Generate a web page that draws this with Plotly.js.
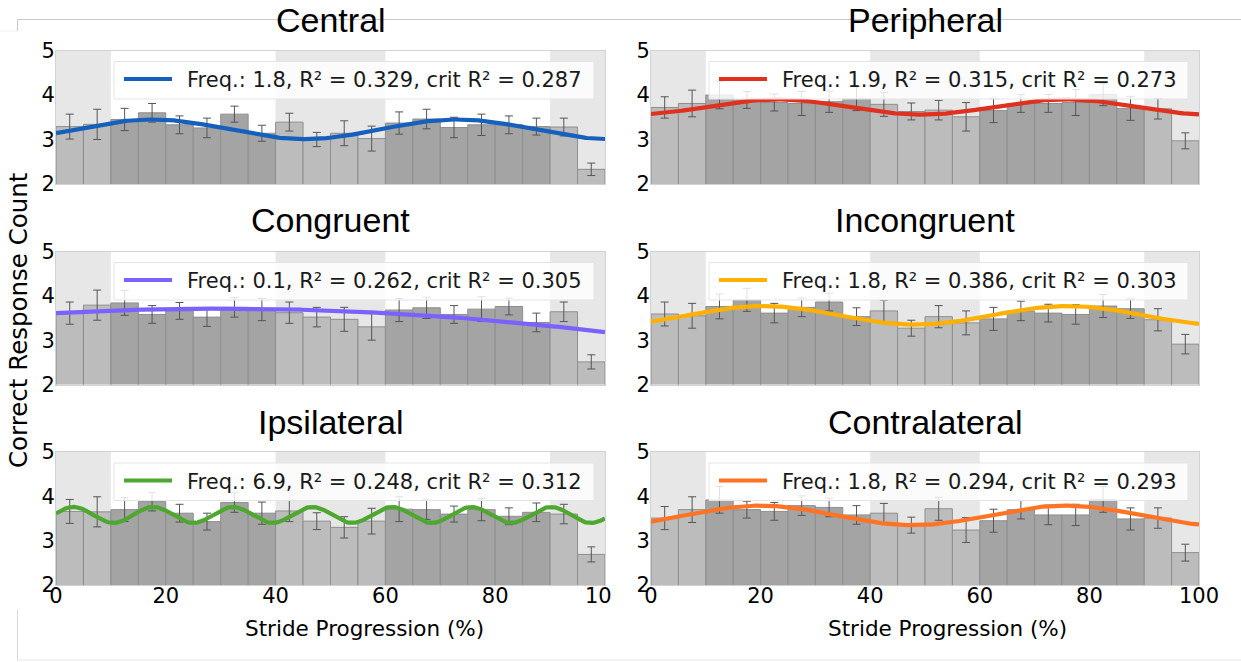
<!DOCTYPE html>
<html>
<head>
<meta charset="utf-8">
<script src="https://cdn.plot.ly/plotly-3.0.1.min.js"></script>
<style>
  html, body { margin: 0; padding: 0; background: #ffffff; }
  #chart { width: 1241px; height: 662px; }
</style>
</head>
<body>
<div id="chart"></div>
<script>
// Stride bins (5 % wide), centre of each bin in % of the stride
const binCenters = [2.5, 7.5, 12.5, 17.5, 22.5, 27.5, 32.5, 37.5, 42.5, 47.5,
                    52.5, 57.5, 62.5, 67.5, 72.5, 77.5, 82.5, 87.5, 92.5, 97.5];
const binWidth = 5;
// Gait phases drawn with a grey background
const shadedPhases = [[0, 10], [40, 60], [90, 100]];

const conditions = ['Central', 'Peripheral', 'Congruent', 'Incongruent', 'Ipsilateral', 'Contralateral'];

// Mean correct responses per bin and standard error
const centralMean = [3.29, 3.34, 3.45, 3.60, 3.33, 3.26, 3.57, 3.14, 3.39, 3.00,
                     3.14, 3.02, 3.37, 3.46, 3.27, 3.33, 3.33, 3.29, 3.28, 2.33];
const centralSE   = [0.28, 0.34, 0.25, 0.21, 0.20, 0.22, 0.18, 0.18, 0.20, 0.16,
                     0.28, 0.28, 0.25, 0.22, 0.23, 0.24, 0.20, 0.19, 0.20, 0.14];

const peripheralMean = [3.72, 3.81, 4.00, 3.89, 3.83, 3.81, 3.85, 3.92, 3.79, 3.63,
                        3.66, 3.51, 3.65, 3.81, 3.81, 3.83, 4.01, 3.70, 3.69, 2.97];
const peripheralSE   = [0.24, 0.30, 0.31, 0.19, 0.19, 0.27, 0.24, 0.27, 0.27, 0.19,
                        0.22, 0.32, 0.27, 0.20, 0.20, 0.29, 0.25, 0.27, 0.23, 0.18];

const congruentMean = [3.61, 3.79, 3.84, 3.58, 3.66, 3.52, 3.74, 3.69, 3.62, 3.52,
                       3.47, 3.30, 3.68, 3.73, 3.58, 3.70, 3.76, 3.40, 3.64, 2.51];
const congruentSE   = [0.25, 0.34, 0.28, 0.20, 0.19, 0.21, 0.22, 0.25, 0.24, 0.22,
                       0.27, 0.30, 0.26, 0.24, 0.20, 0.28, 0.19, 0.21, 0.22, 0.16];

const incongruentMean = [3.59, 3.55, 3.76, 3.91, 3.61, 3.74, 3.86, 3.53, 3.66, 3.27,
                         3.53, 3.39, 3.48, 3.66, 3.61, 3.58, 3.77, 3.71, 3.46, 2.91];
const incongruentSE   = [0.27, 0.28, 0.28, 0.26, 0.22, 0.21, 0.20, 0.20, 0.24, 0.18,
                         0.25, 0.27, 0.26, 0.22, 0.20, 0.22, 0.26, 0.22, 0.25, 0.22];

const ipsilateralMean = [3.66, 3.65, 3.70, 3.88, 3.62, 3.43, 3.86, 3.62, 3.67, 3.44,
                         3.30, 3.44, 3.71, 3.70, 3.60, 3.70, 3.55, 3.64, 3.60, 2.69];
const ipsilateralSE   = [0.27, 0.34, 0.27, 0.21, 0.20, 0.19, 0.22, 0.25, 0.24, 0.19,
                         0.24, 0.29, 0.28, 0.22, 0.18, 0.25, 0.19, 0.21, 0.22, 0.17];

const contralateralMean = [3.51, 3.70, 3.92, 3.70, 3.66, 3.79, 3.75, 3.58, 3.62, 3.35,
                           3.72, 3.24, 3.45, 3.70, 3.58, 3.58, 3.93, 3.49, 3.51, 2.73];
const contralateralSE   = [0.26, 0.29, 0.30, 0.19, 0.20, 0.22, 0.21, 0.21, 0.22, 0.18,
                           0.26, 0.28, 0.26, 0.21, 0.22, 0.24, 0.29, 0.25, 0.23, 0.19];

const means = [centralMean, peripheralMean, congruentMean, incongruentMean, ipsilateralMean, contralateralMean];
const errors = [centralSE, peripheralSE, congruentSE, incongruentSE, ipsilateralSE, contralateralSE];

// Cosine fit per condition: frequency (cycles per stride), fit quality,
// and offset / amplitude / position of the first peak (% stride)
const fitFreq   = [1.8, 1.9, 0.1, 1.8, 6.9, 1.8];
const fitR2     = [0.329, 0.315, 0.262, 0.386, 0.248, 0.294];
const critR2    = [0.287, 0.273, 0.305, 0.303, 0.312, 0.293];
const fitOffset = [3.23, 3.73, -1.84, 3.56, 3.58, 3.57];
const fitAmp    = [0.22, 0.17, 5.55, 0.21, 0.18, 0.22];
const fitPeak   = [17.5, 23, 30, 20.5, 3.2, 20];
const fitColors = ['#1560bd', '#e0301e', '#7b61ff', '#ffb000', '#4ea72e', '#ff7424'];

const xTicks = [0, 20, 40, 60, 80, 100];
const yTicks = [2, 3, 4, 5];

// ---- page geometry (pixels) ----
const W = 1241, H = 662;
const colPx = [[56, 605], [651, 1199]];
const rowPx = [[50.5, 184], [251.5, 384.5], [452, 585]];
const titleY = [20, 220.5, 422];
const px = v => v / W;
const py = v => 1 - v / H;

const barLight = '#bcbcbc';
const barDark = '#a4a4a4';
const shadeColor = '#e7e7e7';
const tickFont = { family: 'DejaVu Sans', size: 21, color: '#000000' };

function inShadedPhase(x) {
  return shadedPhases.some(p => x > p[0] && x < p[1]);
}

const traces = [];
const shapes = [];
const annotations = [];
const layout = {
  width: W, height: H,
  margin: { l: 0, r: 0, t: 0, b: 0 },
  paper_bgcolor: '#ffffff',
  plot_bgcolor: '#ffffff',
  bargap: 0,
  showlegend: false
};

conditions.forEach((name, i) => {
  const col = i % 2, row = Math.floor(i / 2);
  const n = i + 1;
  const xa = 'x' + (n === 1 ? '' : n), ya = 'y' + (n === 1 ? '' : n);
  const xKey = 'xaxis' + (n === 1 ? '' : n), yKey = 'yaxis' + (n === 1 ? '' : n);
  const left = colPx[col][0], right = colPx[col][1], top = rowPx[row][0];

  layout[xKey] = {
    domain: [px(left), px(right)],
    anchor: ya, range: [0, 100], tickvals: xTicks, ticks: '',
    showticklabels: row === 2, tickfont: tickFont, ticklabelstandoff: -8,
    showgrid: false, zeroline: false,
    showline: true, mirror: true, linecolor: '#d2d2d2', linewidth: 1,
    fixedrange: true
  };
  layout[yKey] = {
    domain: [py(rowPx[row][1]), py(top)],
    anchor: xa, range: [2, 5], tickvals: yTicks, ticks: '',
    tickfont: tickFont, ticklabelstandoff: -4,
    showgrid: false, zeroline: false,
    showline: true, mirror: true, linecolor: '#d2d2d2', linewidth: 1,
    fixedrange: true
  };

  // shaded gait phases
  shadedPhases.forEach(p => {
    shapes.push({
      type: 'rect', xref: xa, yref: ya + ' domain',
      x0: p[0], x1: p[1], y0: 0, y1: 1,
      fillcolor: shadeColor, line: { width: 0 }, layer: 'below'
    });
  });

  // bars with standard error
  traces.push({
    type: 'bar', x: binCenters, y: means[i], width: binWidth,
    base: 0,
    xaxis: xa, yaxis: ya, hoverinfo: 'x+y',
    marker: {
      color: binCenters.map(c => inShadedPhase(c) ? barLight : barDark),
      line: { color: '#8e8e8e', width: 1 }
    },
    error_y: {
      type: 'data', array: errors[i], visible: true,
      color: '#555555', thickness: 1, width: 4
    }
  });

  // cosine fit over the stride
  const fx = [], fy = [];
  for (let k = 0; k <= 400; k++) {
    const x = k * 0.25;
    fx.push(x);
    fy.push(fitOffset[i] + fitAmp[i] * Math.cos(2 * Math.PI * fitFreq[i] * (x - fitPeak[i]) / 100));
  }
  const label = 'Freq.: ' + fitFreq[i].toFixed(1) + ', R² = ' + fitR2[i].toFixed(3) +
                ', crit R² = ' + critR2[i].toFixed(3);
  traces.push({
    type: 'scatter', mode: 'lines', x: fx, y: fy,
    xaxis: xa, yaxis: ya, name: label,
    line: { color: fitColors[i], width: 4.2 }, hoverinfo: 'skip'
  });

  // legend box in the upper right corner of the panel
  const boxL = left + 58, boxR = right - 11;
  shapes.push({
    type: 'rect', xref: 'paper', yref: 'paper',
    x0: px(boxL), x1: px(boxR), y0: py(top + 48.5), y1: py(top + 11),
    fillcolor: 'rgba(255,255,255,0.82)', line: { color: '#e4e4e4', width: 1 },
    layer: 'above'
  });
  shapes.push({
    type: 'line', xref: 'paper', yref: 'paper',
    x0: px(boxL + 10), x1: px(boxL + 58), y0: py(top + 28.5), y1: py(top + 28.5),
    line: { color: fitColors[i], width: 4.2 }, layer: 'above'
  });
  annotations.push({
    text: label, xref: 'paper', yref: 'paper',
    x: px(boxL + 71), y: py(top + 29.5), xanchor: 'left', yanchor: 'middle',
    showarrow: false,
    font: { family: 'DejaVu Sans', size: 21, color: '#1a1a1a' }
  });

  // panel title
  annotations.push({
    text: name, xref: 'paper', yref: 'paper',
    x: px((left + right) / 2), y: py(titleY[row]),
    xanchor: 'center', yanchor: 'middle', showarrow: false,
    font: { family: 'Liberation Sans, Arial', size: 34, color: '#000000' }
  });
});

// shared axis titles
annotations.push({
  text: 'Correct Response Count', xref: 'paper', yref: 'paper',
  x: px(18), y: py(320), textangle: -90, showarrow: false,
  xanchor: 'center', yanchor: 'middle',
  font: { family: 'DejaVu Sans', size: 24.5, color: '#000000' }
});
[364, 948].forEach(cx => {
  annotations.push({
    text: 'Stride Progression (%)', xref: 'paper', yref: 'paper',
    x: px(cx), y: py(628), showarrow: false,
    xanchor: 'center', yanchor: 'middle',
    font: { family: 'DejaVu Sans', size: 21.5, color: '#000000' }
  });
});

// thin frame around the figure
const frame = [
  [17.5, 19.5, W, 19.5, '#c8c8c8'],
  [17.5, 19.5, 17.5, 31, '#c8c8c8'],
  [0, 31, 17.5, 31, '#eeeeee'],
  [17.5, 610, 17.5, 660, '#d8d8d8'],
  [17.5, 660, W, 660, '#e6e6e6']
];
frame.forEach(f => {
  shapes.push({
    type: 'line', xref: 'paper', yref: 'paper',
    x0: px(f[0]), y0: py(f[1]), x1: px(f[2]), y1: py(f[3]),
    line: { color: f[4], width: 1 }, layer: 'above'
  });
});
// the left figure ends just right of its axis, cutting the last tick label
shapes.push({
  type: 'rect', xref: 'paper', yref: 'paper',
  x0: px(612), x1: px(634), y0: py(609), y1: py(586),
  fillcolor: '#ffffff', line: { width: 0 }, layer: 'above'
});

layout.shapes = shapes;
layout.annotations = annotations;

Plotly.newPlot('chart', traces, layout, { displayModeBar: false, staticPlot: true });
</script>
</body>
</html>
